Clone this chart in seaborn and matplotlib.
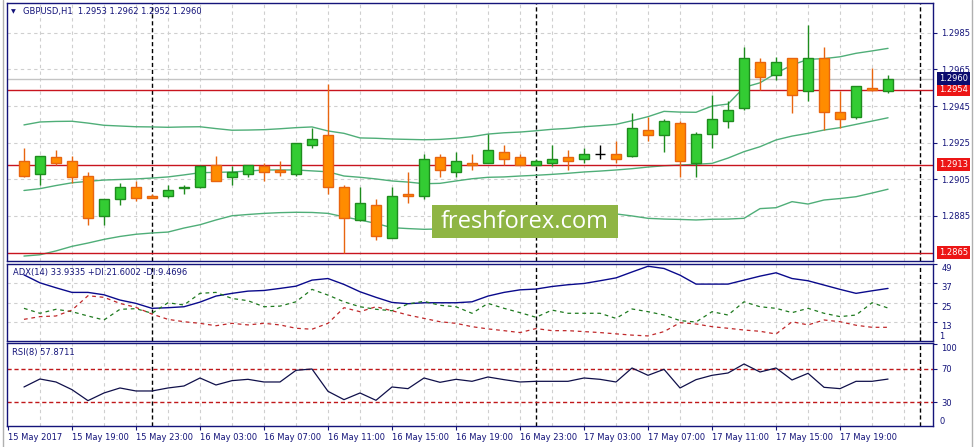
import numpy as np
import matplotlib.pyplot as plt
from matplotlib.patches import Rectangle
from matplotlib.lines import Line2D
import seaborn as sns

# --- GBPUSD H1 candles (15 May 16:00 .. 17 May 22:00) ---
opens = [1.2915, 1.2908, 1.2917, 1.2915, 1.2907, 1.2885, 1.2894, 1.2901, 1.2896, 1.2896,
         1.2900, 1.2901, 1.2913, 1.2906, 1.2908, 1.2912, 1.2910, 1.2908, 1.2924, 1.2929,
         1.2901, 1.2883, 1.2891, 1.2873, 1.2897, 1.2896, 1.2917, 1.2909, 1.2914, 1.2914,
         1.2920, 1.2917, 1.2913, 1.2914, 1.2917, 1.2916, 1.2919, 1.2919, 1.2918, 1.2932,
         1.2929, 1.2936, 1.2914, 1.2930, 1.2937, 1.2944, 1.2969, 1.2962, 1.2971, 1.2953,
         1.2971, 1.2942, 1.2939, 1.2955, 1.2953]
highs = [1.2922, 1.2918, 1.2921, 1.2918, 1.2909, 1.2894, 1.2903, 1.2904, 1.2897, 1.2902,
         1.2902, 1.2913, 1.2918, 1.2912, 1.2913, 1.2914, 1.2915, 1.2925, 1.2933, 1.2957,
         1.2902, 1.2901, 1.2894, 1.2901, 1.2909, 1.2919, 1.2919, 1.2920, 1.2919, 1.2930,
         1.2924, 1.2919, 1.2916, 1.2924, 1.2921, 1.2922, 1.2924, 1.2926, 1.2941, 1.2939,
         1.2938, 1.2937, 1.2931, 1.2951, 1.2948, 1.2977, 1.2971, 1.2972, 1.2971, 1.2989,
         1.2977, 1.2953, 1.2956, 1.2966, 1.2962]
lows = [1.2906, 1.2902, 1.2913, 1.2903, 1.2880, 1.2880, 1.2891, 1.2893, 1.2895, 1.2895,
        1.2897, 1.2900, 1.2904, 1.2902, 1.2906, 1.2904, 1.2907, 1.2907, 1.2922, 1.2897,
        1.2865, 1.2882, 1.2872, 1.2873, 1.2892, 1.2894, 1.2906, 1.2906, 1.2910, 1.2914,
        1.2913, 1.2913, 1.2912, 1.2912, 1.2910, 1.2914, 1.2916, 1.2914, 1.2917, 1.2926,
        1.2920, 1.2906, 1.2906, 1.2922, 1.2933, 1.2943, 1.2954, 1.2959, 1.2941, 1.2948,
        1.2932, 1.2933, 1.2938, 1.2953, 1.2952]
closes = [1.2907, 1.2918, 1.2914, 1.2906, 1.2884, 1.2894, 1.2901, 1.2895, 1.2895, 1.2899,
          1.2901, 1.2912, 1.2904, 1.2909, 1.2913, 1.2909, 1.2909, 1.2925, 1.2927, 1.2901,
          1.2884, 1.2892, 1.2874, 1.2896, 1.2896, 1.2916, 1.2910, 1.2915, 1.2913, 1.2921,
          1.2916, 1.2913, 1.2915, 1.2916, 1.2915, 1.2919, 1.2919, 1.2916, 1.2933, 1.2929,
          1.2937, 1.2915, 1.2930, 1.2938, 1.2943, 1.2971, 1.2961, 1.2969, 1.2951, 1.2971,
          1.2942, 1.2938, 1.2956, 1.2954, 1.2960]

# --- Bollinger bands ---
bb_upper = [1.29347, 1.29363, 1.29366, 1.29367, 1.29357, 1.29345, 1.29341, 1.29337, 1.29336, 1.29334,
            1.29336, 1.29337, 1.29327, 1.29318, 1.29319, 1.29321, 1.29326, 1.29332, 1.29336, 1.29314,
            1.29301, 1.29276, 1.29274, 1.29270, 1.29268, 1.29266, 1.29268, 1.29274, 1.29283, 1.29297,
            1.29304, 1.29308, 1.29315, 1.29323, 1.29328, 1.29337, 1.29343, 1.29350, 1.29370, 1.29392,
            1.29421, 1.29417, 1.29416, 1.29450, 1.29461, 1.29552, 1.29577, 1.29629, 1.29674, 1.29705,
            1.29709, 1.29719, 1.29738, 1.29751, 1.29765]
bb_middle = [1.28989, 1.28999, 1.29016, 1.29031, 1.29039, 1.29046, 1.29049, 1.29052, 1.29057, 1.29063,
             1.29074, 1.29086, 1.29088, 1.29090, 1.29095, 1.29101, 1.29101, 1.29101, 1.29096, 1.29091,
             1.29068, 1.29061, 1.29052, 1.29041, 1.29035, 1.29026, 1.29028, 1.29041, 1.29053, 1.29061,
             1.29063, 1.29068, 1.29072, 1.29077, 1.29083, 1.29090, 1.29095, 1.29101, 1.29108, 1.29117,
             1.29124, 1.29128, 1.29132, 1.29137, 1.29166, 1.29201, 1.29228, 1.29265, 1.29286, 1.29301,
             1.29319, 1.29332, 1.29350, 1.29368, 1.29386]
bb_lower = [1.28631, 1.28638, 1.28659, 1.28684, 1.28702, 1.28722, 1.28738, 1.28750, 1.28757, 1.28762,
            1.28784, 1.28802, 1.28828, 1.28851, 1.28858, 1.28864, 1.28868, 1.28870, 1.28869, 1.28864,
            1.28845, 1.28828, 1.28809, 1.28786, 1.28781, 1.28777, 1.28779, 1.28790, 1.28801, 1.28817,
            1.28828, 1.28839, 1.28844, 1.28850, 1.28855, 1.28861, 1.28863, 1.28861, 1.28850, 1.28837,
            1.28833, 1.28831, 1.28828, 1.28832, 1.28833, 1.28837, 1.28890, 1.28895, 1.28928, 1.28915,
            1.28937, 1.28945, 1.28955, 1.28975, 1.28996]

# --- ADX(14) ---
adx = [42.4, 37.4, 34.3, 31.4, 31.4, 29.9, 26.6, 24.5, 21.4, 21.8,
       22.4, 25.3, 29.1, 30.8, 32.2, 32.6, 33.9, 35.3, 39.1, 40.1,
       36.4, 31.8, 28.3, 25.1, 24.3, 24.9, 24.9, 24.9, 25.5, 29.1,
       31.4, 33.0, 33.5, 35.1, 36.2, 37.0, 38.7, 40.5, 44.2, 47.8,
       46.4, 42.2, 36.6, 36.6, 36.6, 39.1, 41.6, 43.7, 40.1, 38.7,
       36.0, 33.3, 30.8, 32.4, 33.9]
plus_di = [21.4, 18.3, 20.8, 19.3, 16.6, 14.1, 20.8, 21.2, 18.3, 24.9,
           23.5, 30.8, 31.4, 27.6, 26.2, 22.4, 22.8, 25.5, 33.3, 29.7,
           25.5, 22.4, 20.8, 19.9, 24.1, 25.8, 23.3, 22.4, 18.3, 24.5,
           21.4, 18.7, 15.8, 20.3, 18.3, 18.3, 18.3, 15.1, 21.0, 19.3,
           17.2, 13.7, 12.8, 19.3, 17.2, 25.5, 22.4, 21.4, 18.7, 21.4,
           18.3, 16.2, 17.2, 24.9, 21.6]
minus_di = [14.5, 16.2, 16.6, 20.3, 29.3, 28.3, 24.5, 22.0, 17.8, 14.5,
            13.0, 12.0, 10.5, 12.0, 11.0, 12.0, 11.0, 8.9, 8.3, 12.0,
            21.8, 19.3, 22.4, 19.9, 17.2, 15.1, 13.0, 12.0, 9.9, 8.5,
            7.4, 6.2, 8.7, 7.4, 7.4, 6.8, 6.2, 5.4, 4.6, 4.1,
            6.8, 12.4, 11.6, 9.9, 8.9, 7.8, 7.0, 5.3, 13.0, 11.0,
            14.1, 13.0, 10.8, 9.5, 9.5]

# --- RSI(8) ---
rsi = [48.4, 58.0, 54.4, 45.2, 32.0, 41.2, 47.2, 43.6, 43.6, 47.2,
       49.6, 59.2, 50.8, 56.0, 57.6, 54.4, 54.4, 68.4, 70.0, 43.2,
       33.2, 41.2, 32.4, 48.4, 46.4, 59.2, 54.0, 57.6, 55.2, 60.4,
       57.2, 54.4, 55.2, 55.2, 55.2, 59.2, 57.6, 54.4, 71.2, 62.4,
       69.6, 47.2, 57.2, 62.4, 65.2, 76.0, 66.4, 71.2, 56.8, 64.8,
       48.0, 46.4, 55.2, 55.2, 57.9]

price_ticks = [1.2885, 1.2905, 1.2925, 1.2945, 1.2965, 1.2985]
levels = [1.2954, 1.2913, 1.2865]
last_price = 1.2960
adx_ticks = [13, 25, 37, 49]
rsi_levels = [70, 30]
day_breaks = [8, 32, 56]
date_labels = ['15 May 2017', '15 May 19:00', '15 May 23:00', '16 May 03:00', '16 May 07:00',
               '16 May 11:00', '16 May 15:00', '16 May 19:00', '16 May 23:00', '17 May 03:00',
               '17 May 07:00', '17 May 11:00', '17 May 15:00', '17 May 19:00']

W, H = 975, 447
NAVY = '#14147a'
GRID = '#cfcfcf'


def box(left, top, right, bottom):
    """pixel box -> figure fraction rect"""
    return [left / W, 1 - bottom / H, (right - left) / W, (bottom - top) / H]


sns.set_style('white')
plt.rcParams['font.family'] = ['DejaVu Sans']
plt.rcParams['font.size'] = 6

fig = plt.figure(figsize=(W / 100, H / 100), dpi=100)
ax = fig.add_axes(box(7, 3.3, 933, 261))
ax_adx = fig.add_axes(box(7, 263.7, 933, 340.7))
ax_rsi = fig.add_axes(box(7, 343, 933, 426.3))

idx = np.arange(len(opens))
xlim = (-1.06, 56.81)

for a in (ax, ax_adx, ax_rsi):
    a.set_xlim(*xlim)
    for s in a.spines.values():
        s.set_color(NAVY)
        s.set_linewidth(1)
    for gx in range(1, 57, 2):
        a.axvline(gx, color=GRID, lw=0.8, ls=(0, (3, 3)), zorder=0)
    for d in day_breaks:
        a.axvline(d, color='black', lw=1, ls=(0, (3, 2)), zorder=1.5)
    a.yaxis.tick_right()
    a.tick_params(axis='y', length=3, width=0.8, color=NAVY, labelcolor=NAVY, pad=3, labelsize=6)
    a.tick_params(axis='x', bottom=False, labelbottom=False)

# --- main price panel ---
ax.set_ylim(1.28604, 1.30011)
ax.set_yticks(price_ticks)
ax.set_yticklabels([f'{p:.4f}' for p in price_ticks])
for p in price_ticks:
    ax.axhline(p, color=GRID, lw=0.8, ls=(0, (3, 3)), zorder=0)

for line in (bb_upper, bb_middle, bb_lower):
    sns.lineplot(x=idx, y=line, ax=ax, color='#4fae78', linewidth=1, legend=False, zorder=2)

ax.axhline(last_price, color='#c4c4c4', lw=1, zorder=1)
for lev in levels:
    ax.axhline(lev, color='#c8141e', lw=1, zorder=2.5)

o = np.array(opens)
c = np.array(closes)
bull = c > o
bear = c < o
fills = np.where(bull, '#33cc33', np.where(bear, '#ff8c00', 'black'))
edges = np.where(bull, '#1e8c1e', np.where(bear, '#e8650f', 'black'))
ax.vlines(idx, lows, highs, colors=edges, linewidth=1, zorder=3)
ax.bar(idx, np.abs(c - o), bottom=np.minimum(o, c), width=0.66,
       color=fills, edgecolor=edges, linewidth=1, zorder=4)

ytr = ax.get_yaxis_transform()
for lev in levels:
    ax.text(1.0065, lev, f'{lev:.4f}', transform=ytr, ha='left', va='center', color='white',
            fontsize=6, clip_on=False, zorder=10,
            bbox=dict(boxstyle='square,pad=0.22', fc='#ec1515', ec='none'))
ax.text(1.0065, last_price, f'{last_price:.4f}', transform=ytr, ha='left', va='center',
        color='white', fontsize=6, clip_on=False, zorder=10,
        bbox=dict(boxstyle='square,pad=0.22', fc='#0c0c6e', ec='none'))

# --- ADX panel ---
ax_adx.set_ylim(1.1, 49.4)
ax_adx.set_yticks(adx_ticks)
ax_adx.set_yticklabels([str(t) for t in adx_ticks])
for lbl in ax_adx.get_yticklabels():
    lbl.set_va('top')
for t in adx_ticks[:-1]:
    ax_adx.axhline(t, color=GRID, lw=0.8, ls=(0, (3, 3)), zorder=0)
ax_adx.text(1.0065, 1.1, '1', transform=ax_adx.get_yaxis_transform(), ha='left',
            va='bottom', color=NAVY, fontsize=6, clip_on=False)
sns.lineplot(x=idx, y=adx, ax=ax_adx, color='#0a0a8c', linewidth=1, legend=False, zorder=3)
sns.lineplot(x=idx, y=plus_di, ax=ax_adx, color='#1f7a1f', linewidth=0.9,
             linestyle=(0, (3, 3)), legend=False, zorder=3)
sns.lineplot(x=idx, y=minus_di, ax=ax_adx, color='#c0282a', linewidth=0.9,
             linestyle=(0, (3, 3)), legend=False, zorder=3)

# --- RSI panel ---
ax_rsi.set_ylim(1.2, 101.2)
ax_rsi.set_yticks([100, 70, 30])
ax_rsi.set_yticklabels(['100', '70', '30'])
ax_rsi.get_yticklabels()[0].set_va('top')
ax_rsi.text(1.0065, 1.2, '0', transform=ax_rsi.get_yaxis_transform(), ha='left',
            va='bottom', color=NAVY, fontsize=6, clip_on=False)
for lev in rsi_levels:
    ax_rsi.axhline(lev, color='#c0181a', lw=1, ls=(0, (3, 2)), zorder=2)
sns.lineplot(x=idx, y=rsi, ax=ax_rsi, color='#10104a', linewidth=0.9, legend=False, zorder=3)

tick_idx = list(range(-1, 53, 4))
ax_rsi.tick_params(axis='x', bottom=True, labelbottom=True, length=3, width=0.8,
                   color=NAVY, labelcolor=NAVY, pad=1.5, labelsize=6)
ax_rsi.set_xticks(tick_idx)
ax_rsi.set_xticklabels(date_labels, ha='left')

for a in (ax, ax_adx, ax_rsi):
    a.set_xlabel('')
    a.set_ylabel('')

# headers
fig.text(11 / W, 1 - 11.5 / H, '\u25bc', fontsize=4.5, color=NAVY, va='center')
fig.text(23 / W, 1 - 11.5 / H, 'GBPUSD,H1  1.2953 1.2962 1.2952 1.2960', fontsize=6,
         color=NAVY, va='center')
fig.text(13 / W, 1 - 272.7 / H, 'ADX(14) 33.9335 +DI:21.6002 -DI:9.4696', fontsize=6,
         color=NAVY, va='center')
fig.text(12 / W, 1 - 353 / H, 'RSI(8) 57.8711', fontsize=6, color=NAVY, va='center')

# watermark
fig.add_artist(Rectangle((431.7 / W, 1 - 238.3 / H), 186 / W, 33.3 / H,
                         transform=fig.transFigure, fc='#8fb544', ec='none', zorder=20))
fig.text(524.7 / W, 1 - 222 / H, 'freshforex.com', ha='center', va='center', color='white',
         fontsize=17, family='Open Sans', zorder=21)

# window edges
fig.add_artist(Line2D([2.5 / W, 2.5 / W], [0, 1], color='#b0b0b0', lw=1))
fig.add_artist(Line2D([972 / W, 972 / W], [0, 1], color='#b0b0b0', lw=1))

fig.savefig('out.png', dpi=100)
